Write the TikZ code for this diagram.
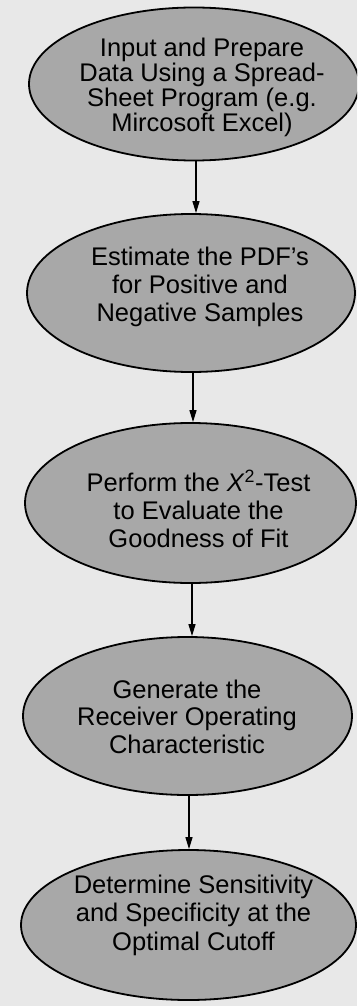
\documentclass[tikz,border=0pt]{standalone}
\usepackage{fontspec}
\setmainfont{Liberation Sans}
\usetikzlibrary{arrows.meta,shapes.geometric}
\definecolor{paper}{gray}{0.91}
\definecolor{blob}{gray}{0.66}
\tikzset{
  blobshape/.style={ellipse, draw=black, line width=1.8pt, fill=blob, inner sep=0pt},
  blobtext/.style={align=center, font=\fontsize{25.5}{28}\selectfont, inner sep=0pt},
  arr/.style={line width=1.3pt, -{Triangle[width=7pt,length=12pt]}}
}
\begin{document}
\begin{tikzpicture}[x=1pt,y=1pt]
\clip (0,0) rectangle (357,-1006);
\fill[paper] (0,0) rectangle (357,-1006);
\useasboundingbox (0,0) rectangle (357,-1006);

\node[blobshape, minimum width=330pt, minimum height=153pt] (e1) at (194,-84) {};
\node[blobshape, minimum width=328pt, minimum height=158pt] (e2) at (191,-293) {};
\node[blobshape, minimum width=331pt, minimum height=160pt] (e3) at (190.5,-503) {};
\node[blobshape, minimum width=329pt, minimum height=158pt] (e4) at (187.5,-716) {};
\node[blobshape, minimum width=335pt, minimum height=150pt] (e5) at (188.5,-925) {};

\node[blobtext, font=\fontsize{25.5}{25}\selectfont] (t1) at (202,-87) {Input and Prepare\\Data Using a Spread-\\Sheet Program (e.g.\\Mircosoft Excel)};
\node[blobtext] (t2) at (200,-286.5) {Estimate the PDF's\\for Positive and\\Negative Samples};
\node[blobtext] (t3) at (198.5,-509) {Perform the \textit{X}\textsuperscript{2}-Test\\to Evaluate the\\Goodness of Fit};
\node[blobtext, font=\fontsize{25.5}{27.5}\selectfont] (t4) at (187,-716.5) {Generate the\\Receiver Operating\\Characteristic};
\node[blobtext, font=\fontsize{25.5}{28.5}\selectfont] (t5) at (193.5,-915) {Determine Sensitivity\\and Specificity at the\\Optimal Cutoff};

\draw[arr] ([xshift=2pt]e1.south) -- ([xshift=5pt]e2.north);
\draw[arr] ([xshift=2pt]e2.south) -- ([xshift=2.5pt]e3.north);
\draw[arr] ([xshift=1.5pt]e3.south) -- ([xshift=4.5pt]e4.north);
\draw[arr] ([xshift=1.5pt]e4.south) -- ([xshift=0.5pt]e5.north);
\end{tikzpicture}
\end{document}
